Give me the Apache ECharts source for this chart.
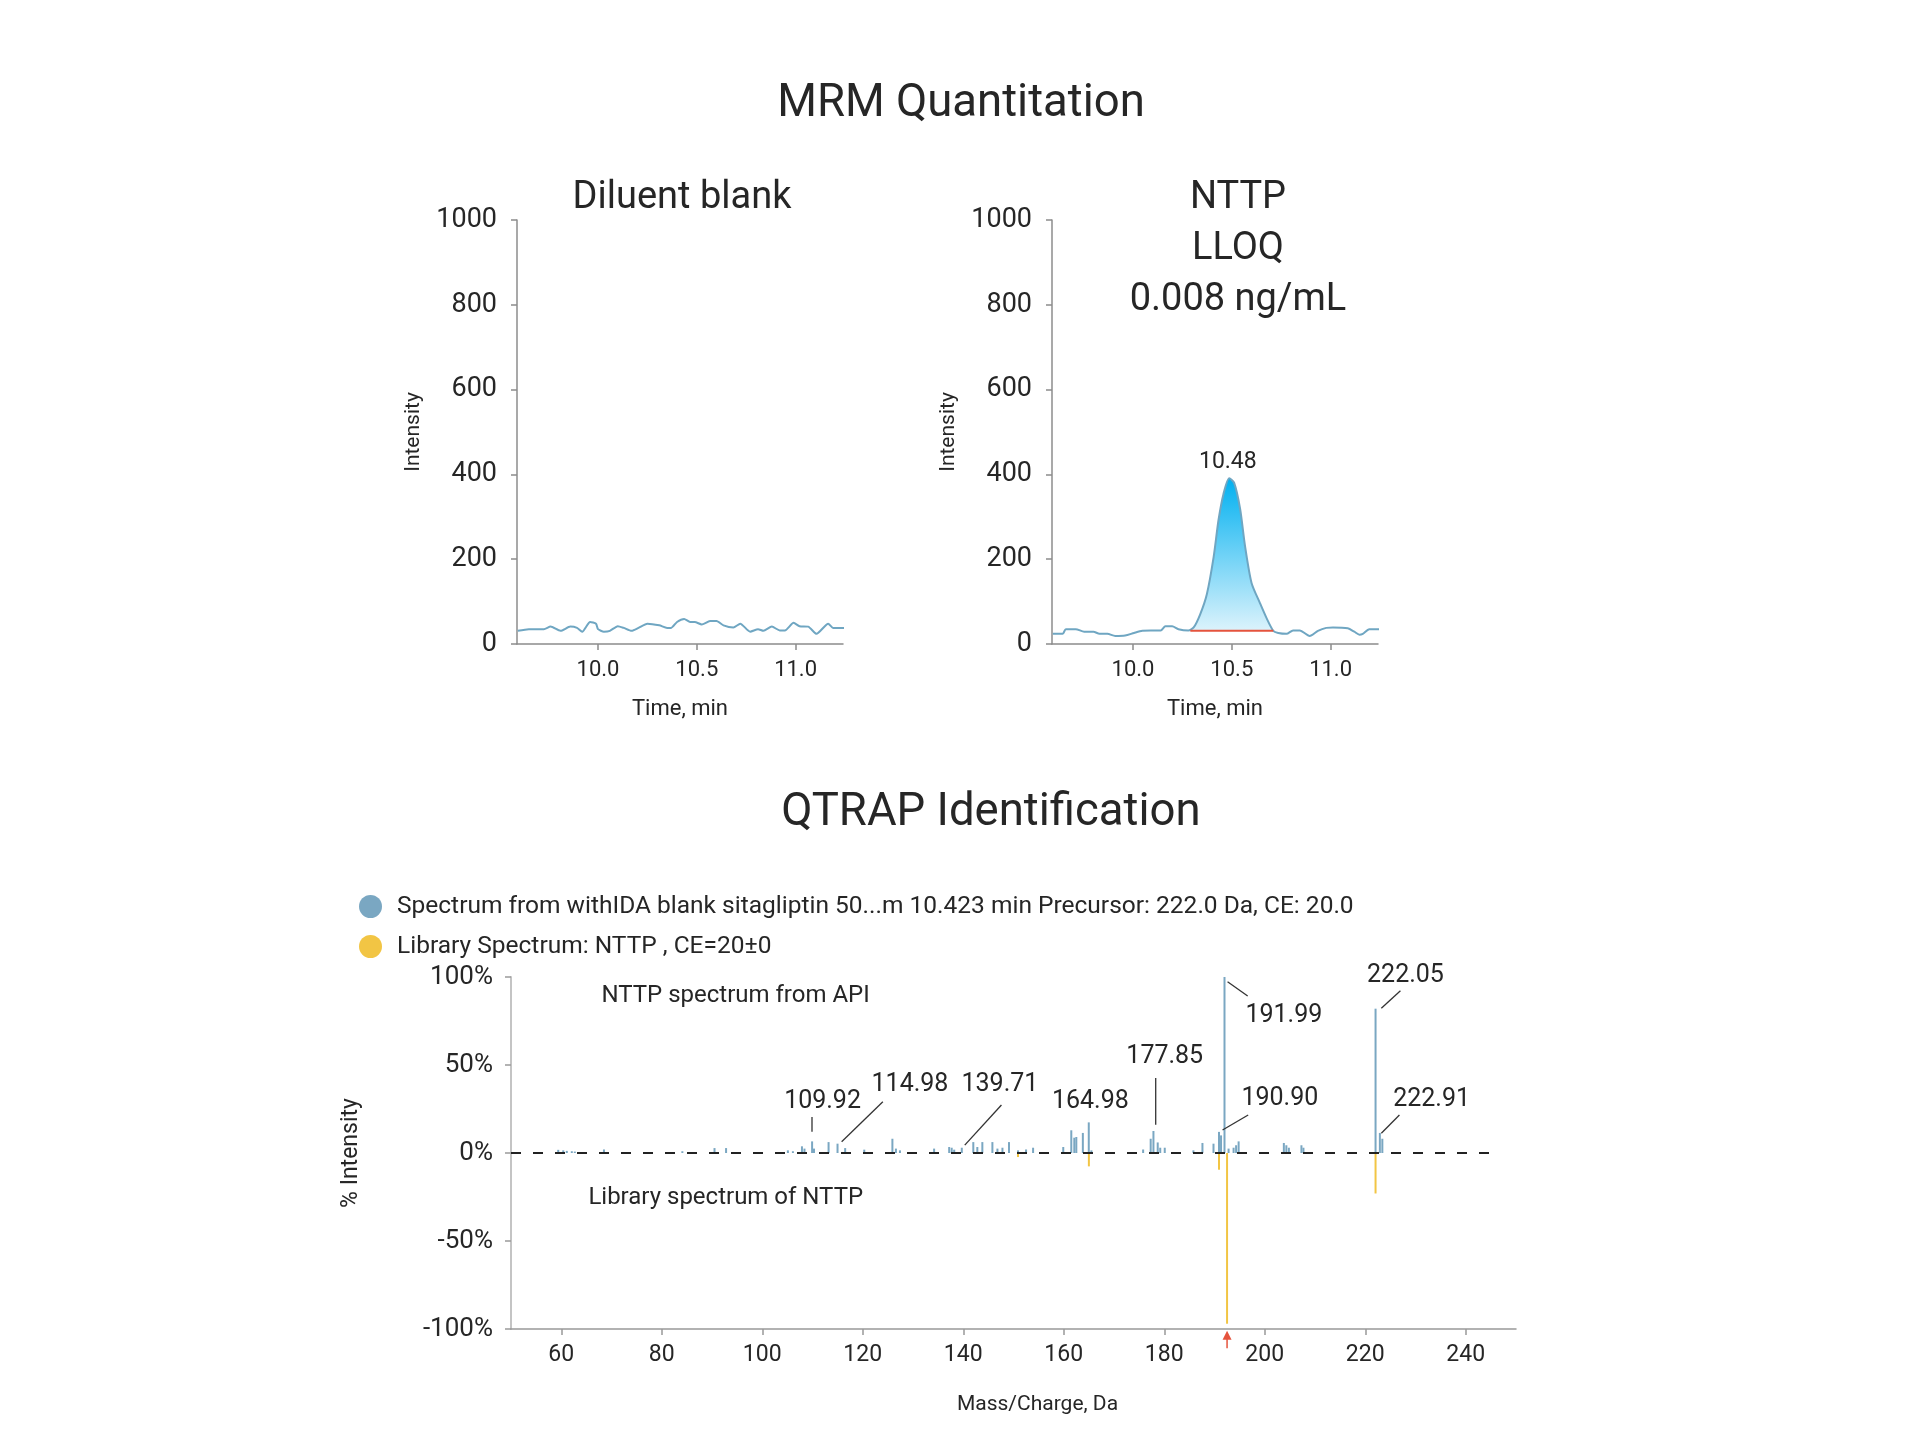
<!DOCTYPE html>
<html>
<head>
<meta charset="utf-8">
<title>MRM Quantitation / QTRAP Identification</title>
<script src="https://cdn.jsdelivr.net/npm/echarts@6.0.0/dist/echarts.min.js"></script>
<style>
  html, body { margin: 0; padding: 0; background: #ffffff; }
  #main { width: 1920px; height: 1440px; }
</style>
</head>
<body>
<div id="main"></div>
<script>
// ---------- chromatograms (time in min, intensity in counts) ----------
const blankTime = [9.594, 9.65, 9.726, 9.76, 9.81, 9.86, 9.894, 9.92, 9.96, 9.99, 10.0, 10.03, 10.06, 10.10,
  10.13, 10.17, 10.205, 10.25, 10.31, 10.35, 10.37, 10.40, 10.436, 10.466, 10.49, 10.525, 10.567, 10.60,
  10.635, 10.685, 10.72, 10.77, 10.81, 10.837, 10.88, 10.92, 10.946, 10.99, 11.02, 11.064, 11.106, 11.165,
  11.19, 11.25, 11.274];
const blankIntensity = [31, 35, 35, 41, 31, 41, 38, 29, 52, 48, 35, 29, 31, 42,
  38, 31, 38, 48, 44, 38, 38, 52, 59, 52, 52, 46, 54, 54,
  44, 39, 48, 29, 35, 31, 41, 32, 32, 50, 42, 41, 24, 48,
  38, 38, 32];

const nttpTime = [9.594, 9.644, 9.66, 9.71, 9.753, 9.80, 9.83, 9.87, 9.91, 9.96, 10.005, 10.047, 10.09, 10.14,
  10.164, 10.198, 10.23, 10.28, 10.307, 10.34, 10.374, 10.408, 10.433, 10.458, 10.487, 10.512, 10.542, 10.567,
  10.60, 10.643, 10.676, 10.71, 10.735, 10.777, 10.81, 10.844, 10.894, 10.936, 10.978, 11.012, 11.087, 11.12,
  11.146, 11.163, 11.196, 11.267];
const nttpIntensity = [24, 24, 35, 35, 29, 29, 24, 24, 19, 20, 26, 31, 32, 32,
  42, 42, 35, 32, 39, 70, 118, 205, 293, 354, 391, 380, 319, 231,
  144, 96, 61, 31, 26, 24, 32, 32, 19, 31, 38, 39, 37, 29,
  22, 24, 35, 35];

// integrated peak
const peakStart = 10.29;
const peakEnd = 10.71;
const peakBaseline = 31;
const peakRetention = 10.48;
const peakLabelHeight = 428;

const timeTicks = [10.0, 10.5, 11.0];

// ---------- spectra (m/z in Da, % intensity) ----------
const sampleMz = [59.4, 60.4, 61.1, 62.1, 62.7, 68.5, 84.1, 90.5, 92.8, 105.1, 106.1, 107.9, 108.4, 109.92,
  110.3, 113.2, 114.98, 116.5, 120.3, 125.9, 126.6, 127.4, 134.2, 137.2, 137.7, 138.2, 139.71, 142.0,
  142.8, 143.8, 145.8, 146.8, 147.8, 149.1, 150.9, 152.5, 153.9, 159.9, 161.5, 162.1, 162.5, 163.8,
  164.98, 165.5, 175.8, 177.3, 177.85, 178.7, 179.2, 180.1, 185.8, 187.6, 189.8, 190.90, 191.3, 191.99,
  192.8, 193.8, 194.3, 194.8, 203.8, 204.3, 204.8, 207.3, 207.7, 222.05, 222.91, 223.4];
const sampleIntensity = [1.8, 1.5, 1.2, 1.0, 0.8, 2, 1, 2.8, 2.8, 1.5, 1, 3.8, 2.5, 6.6,
  2.5, 6.2, 5.3, 2.8, 1.9, 8.1, 2.5, 1.5, 2.5, 3.4, 3, 1.9, 3, 6.2,
  3.4, 6.2, 6.2, 2.5, 3, 6.2, 1.5, 2, 3, 3.4, 12.9, 8.7, 9.1, 11.4,
  17.4, 1.5, 2, 8.1, 12.5, 6, 3, 3, 1.5, 5.7, 5.3, 12, 10, 100,
  2.5, 3, 4.4, 6.6, 5.7, 4.4, 3, 4.4, 3, 82, 11.4, 8.1];

const libraryMz = [150.9, 165.0, 190.9, 192.5, 222.05];
const libraryIntensity = [-2.3, -7.6, -9.5, -97, -23];

const precursorMz = 192.5;
const mzTicks = [60, 80, 100, 120, 140, 160, 180, 200, 220, 240];

// peak annotations
const peakLabelText = ['109.92', '114.98', '139.71', '164.98', '177.85', '191.99', '190.90', '222.05', '222.91'];
const peakLabelMz = [112.0, 129.4, 147.3, 165.3, 180.1, 203.8, 203.0, 228.0, 233.2];
const peakLabelPct = [29.1, 38.6, 38.6, 29.1, 54.7, 78, 31.1, 100.5, 30.5];

const leaderStartMz = [109.9, 124.0, 147.6, 178.3, 192.6, 196.7, 227.0, 226.8];
const leaderStartPct = [20.5, 29.1, 27.3, 42.6, 97.3, 21.6, 92.2, 21.6];
const leaderEndMz = [109.9, 115.8, 140.3, 178.3, 196.6, 191.6, 223.2, 223.2];
const leaderEndPct = [12.1, 6.4, 4.5, 16.0, 89.2, 13.1, 82.2, 11.2];

const noteText = ['NTTP spectrum from API', 'Library spectrum of NTTP'];
const noteMz = [67.9, 65.3];
const notePct = [89.2, -25.6];

const sampleName = 'Spectrum from withIDA blank sitagliptin 50...m 10.423 min Precursor: 222.0 Da, CE: 20.0';
const libraryName = 'Library Spectrum: NTTP , CE=20\u00b10';

// ---------- styles ----------
const FONT = 'Roboto';
const TEXT = '#262626';
const TRACE = '#6fa6c2';
const SAMPLE = '#7aa7c2';
const LIBRARY = '#f2c544';
const RED = '#e5533d';

// 把 x / y 数组合成 [x, y]
function pairs(xs, ys) {
  return xs.map((x, i) => [x, ys[i]]);
}

function timeAxis(gridIndex) {
  return {
    type: 'value',
    gridIndex: gridIndex,
    min: 9.59,
    max: 11.24,
    name: 'Time, min',
    nameLocation: 'middle',
    nameGap: 54,
    nameTextStyle: { fontFamily: FONT, fontSize: 22, color: TEXT },
    axisLine: { show: true, lineStyle: { color: '#8c8c8c', width: 1.5 } },
    axisTick: { show: true, length: 6, customValues: timeTicks, lineStyle: { color: '#8c8c8c', width: 1.5 } },
    axisLabel: {
      customValues: timeTicks,
      margin: 15,
      fontFamily: FONT,
      fontSize: 22,
      color: TEXT,
      formatter: v => v.toFixed(1)
    },
    splitLine: { show: false }
  };
}

function intensityAxis(gridIndex) {
  return {
    type: 'value',
    gridIndex: gridIndex,
    min: 0,
    max: 1000,
    interval: 200,
    name: 'Intensity',
    nameLocation: 'middle',
    nameGap: 93,
    nameTextStyle: { fontFamily: FONT, fontSize: 21, color: TEXT },
    axisLine: { show: true, lineStyle: { color: '#8c8c8c', width: 1.5 } },
    axisTick: { show: true, length: 6, lineStyle: { color: '#8c8c8c', width: 1.5 } },
    axisLabel: { margin: 20, fontFamily: FONT, fontSize: 27, color: TEXT, formatter: v => String(v) },
    splitLine: { show: false }
  };
}

// 峰面积: 基线以上的部分
const fillData = [[peakStart, peakBaseline]]
  .concat(pairs(nttpTime, nttpIntensity).filter(p => p[0] > peakStart && p[0] < peakEnd))
  .concat([[peakEnd, peakBaseline]]);

// 引导线
const leaderSeries = leaderStartMz.map((m, i) => ({
  type: 'line',
  xAxisIndex: 2,
  yAxisIndex: 2,
  data: [[m, leaderStartPct[i]], [leaderEndMz[i], leaderEndPct[i]]],
  symbol: 'none',
  silent: true,
  clip: false,
  lineStyle: { color: '#333333', width: 1.3 },
  z: 4
}));

// 文字标注 (透明点 + label)
function textSeries(items, position, fontSize) {
  return {
    type: 'scatter',
    xAxisIndex: 2,
    yAxisIndex: 2,
    data: items,
    symbolSize: 1,
    clip: false,
    silent: true,
    itemStyle: { color: 'rgba(0,0,0,0)', opacity: 1 },
    label: {
      show: true,
      position: position,
      distance: 0,
      formatter: '{b}',
      fontFamily: FONT,
      fontSize: fontSize,
      color: TEXT,
      opacity: 1
    },
    z: 6
  };
}

const option = {
  animation: false,
  backgroundColor: '#ffffff',
  textStyle: { fontFamily: FONT },
  graphic: [
    { type: 'text', x: 961, y: 105, style: { text: 'MRM Quantitation', fontFamily: FONT, fontSize: 45.5, fill: TEXT, align: 'center', verticalAlign: 'middle' } },
    { type: 'text', x: 682, y: 198, style: { text: 'Diluent blank', fontFamily: FONT, fontSize: 38, fill: TEXT, align: 'center', verticalAlign: 'middle' } },
    { type: 'text', x: 1238, y: 249, style: { text: 'NTTP\nLLOQ\n0.008 ng/mL', fontFamily: FONT, fontSize: 38, lineHeight: 51, fill: TEXT, align: 'center', verticalAlign: 'middle' } },
    { type: 'text', x: 991, y: 814, style: { text: 'QTRAP Identification', fontFamily: FONT, fontSize: 45.5, fill: TEXT, align: 'center', verticalAlign: 'middle' } }
  ],
  legend: {
    data: [sampleName, libraryName],
    orient: 'vertical',
    left: 354,
    top: 889,
    icon: 'circle',
    itemWidth: 23,
    itemHeight: 23,
    itemGap: 15,
    textStyle: { fontFamily: FONT, fontSize: 24.5, color: TEXT, padding: [0, 0, 0, 10] },
    selectedMode: false
  },
  grid: [
    { left: 517, top: 220, width: 326, height: 424 },
    { left: 1052, top: 220, width: 326, height: 424 },
    { left: 511, top: 977, width: 1005, height: 352 }
  ],
  xAxis: [
    timeAxis(0),
    timeAxis(1),
    {
      type: 'value',
      gridIndex: 2,
      min: 50,
      max: 250,
      name: 'Mass/Charge, Da',
      nameLocation: 'middle',
      nameGap: 65,
      nameTextStyle: { fontFamily: FONT, fontSize: 21, color: TEXT, padding: [0, 0, 0, 48] },
      axisLine: { show: true, onZero: false, lineStyle: { color: '#999999', width: 1.5 } },
      axisTick: { show: true, length: 6, customValues: mzTicks, lineStyle: { color: '#999999', width: 1.5 } },
      axisLabel: { customValues: mzTicks, margin: 15, fontFamily: FONT, fontSize: 23, color: TEXT },
      splitLine: { show: false }
    }
  ],
  yAxis: [
    intensityAxis(0),
    intensityAxis(1),
    {
      type: 'value',
      gridIndex: 2,
      min: -100,
      max: 100,
      interval: 50,
      name: '% Intensity',
      nameLocation: 'middle',
      nameGap: 148,
      nameTextStyle: { fontFamily: FONT, fontSize: 23, color: TEXT },
      axisLine: { show: true, lineStyle: { color: '#c4c4c4', width: 2 } },
      axisTick: { show: true, length: 6, lineStyle: { color: '#9a9a9a', width: 1.5 } },
      axisLabel: { margin: 18, fontFamily: FONT, fontSize: 26, color: TEXT, formatter: '{value}%' },
      splitLine: { show: false }
    }
  ],
  series: [
    {
      type: 'line',
      xAxisIndex: 0,
      yAxisIndex: 0,
      data: pairs(blankTime, blankIntensity),
      symbol: 'none',
      smooth: 0.2,
      clip: false,
      lineStyle: { color: TRACE, width: 2 }
    },
    {
      type: 'line',
      xAxisIndex: 1,
      yAxisIndex: 1,
      data: fillData,
      symbol: 'none',
      smooth: 0.25,
      lineStyle: { width: 0 },
      areaStyle: {
        origin: peakBaseline,
        opacity: 1,
        color: new echarts.graphic.LinearGradient(0, 0, 0, 1, [
          { offset: 0, color: '#00b0f0' },
          { offset: 1, color: '#dcf3fc' }
        ])
      },
      z: 1
    },
    {
      type: 'line',
      xAxisIndex: 1,
      yAxisIndex: 1,
      data: pairs(nttpTime, nttpIntensity),
      symbol: 'none',
      smooth: 0.25,
      clip: false,
      lineStyle: { color: TRACE, width: 2 },
      z: 3
    },
    {
      type: 'line',
      xAxisIndex: 1,
      yAxisIndex: 1,
      data: [[peakStart, peakBaseline], [peakEnd, peakBaseline]],
      symbol: 'none',
      lineStyle: { color: RED, width: 2 },
      z: 4
    },
    {
      type: 'scatter',
      xAxisIndex: 1,
      yAxisIndex: 1,
      data: [[peakRetention, peakLabelHeight]],
      symbolSize: 1,
      silent: true,
      itemStyle: { color: 'rgba(0,0,0,0)', opacity: 1 },
      label: {
        show: true,
        position: 'inside',
        formatter: () => peakRetention.toFixed(2),
        fontFamily: FONT,
        fontSize: 23,
        color: TEXT,
        opacity: 1
      }
    },
    {
      name: sampleName,
      type: 'bar',
      xAxisIndex: 2,
      yAxisIndex: 2,
      data: pairs(sampleMz, sampleIntensity),
      barWidth: 2,
      barGap: '-100%',
      itemStyle: { color: SAMPLE },
      z: 3
    },
    {
      name: libraryName,
      type: 'bar',
      xAxisIndex: 2,
      yAxisIndex: 2,
      data: pairs(libraryMz, libraryIntensity),
      barWidth: 2,
      barGap: '-100%',
      itemStyle: { color: LIBRARY },
      z: 3
    },
    {
      // 0% 虚线
      type: 'line',
      xAxisIndex: 2,
      yAxisIndex: 2,
      data: [[50, 0], [245, 0]],
      symbol: 'none',
      silent: true,
      clip: false,
      lineStyle: { color: '#222222', width: 2, type: [10, 12] },
      z: 5
    },
    {
      // 前体离子箭头 (轴下方)
      type: 'line',
      xAxisIndex: 2,
      yAxisIndex: 2,
      data: [[precursorMz, -111], [precursorMz, -104]],
      symbol: 'none',
      silent: true,
      clip: false,
      lineStyle: { color: RED, width: 1.5 },
      z: 5
    },
    {
      type: 'scatter',
      xAxisIndex: 2,
      yAxisIndex: 2,
      data: [[precursorMz, -103.6]],
      symbol: 'triangle',
      symbolSize: [9, 9],
      silent: true,
      clip: false,
      itemStyle: { color: RED, opacity: 1 },
      z: 5
    }
  ].concat(leaderSeries).concat([
    textSeries(peakLabelText.map((t, i) => ({ name: t, value: [peakLabelMz[i], peakLabelPct[i]] })), 'inside', 25),
    textSeries(noteText.map((t, i) => ({ name: t, value: [noteMz[i], notePct[i]] })), 'right', 24)
  ])
};

const chart = echarts.init(document.getElementById('main'));
chart.setOption(option);
</script>
</body>
</html>
